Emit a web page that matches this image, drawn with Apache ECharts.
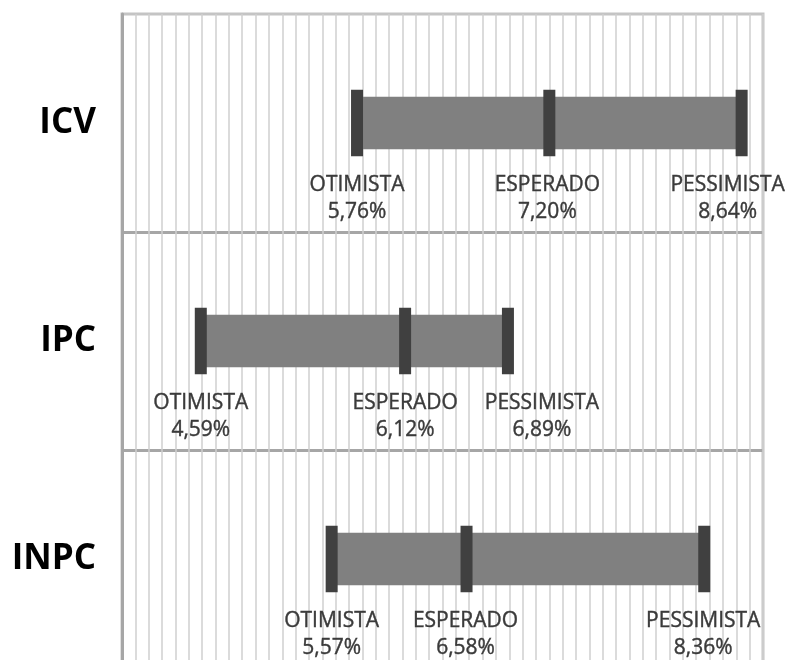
<!DOCTYPE html>
<html>
<head>
<meta charset="utf-8">
<script src="https://cdn.jsdelivr.net/npm/echarts@6/dist/echarts.min.js"></script>
<style>
html,body{margin:0;padding:0;background:#fff;}
#chart{width:788px;height:660px;}
</style>
</head>
<body>
<div id="chart"></div>
<script>
// Data
var categories = ['ICV', 'IPC', 'INPC'];
var otimista   = [5.76, 4.59, 5.57];
var esperado   = [7.20, 6.12, 6.58];
var pessimista = [8.64, 6.89, 8.36];
var scenarioNames = ['OTIMISTA', 'ESPERADO', 'PESSIMISTA'];

// Label layout nudges (pixels), as placed in the original
var labelShift = [[0, -2, -14], [0, 0, 34], [0, -1, -1]];

var seriesData = categories.map(function (c, i) {
  return [i, otimista[i], esperado[i], pessimista[i]];
});

function fmt(v) { return v.toFixed(2).replace('.', ',') + '%'; }

var FONT = '"Open Sans", "Noto Sans", sans-serif';

var chart = echarts.init(document.getElementById('chart'), null, {renderer: 'canvas'});
chart.setOption({
  animation: false,
  grid: {
    left: 122, right: 25, top: 14, height: 654,
    outerBoundsMode: 'none', containLabel: false,
    show: true, borderColor: '#c4c4c4', borderWidth: 3, backgroundColor: 'transparent'
  },
  xAxis: {
    type: 'value', min: 4.0, max: 8.8, interval: 0.1,
    axisLabel: {show: false}, axisTick: {show: false}, axisLine: {show: false},
    splitLine: {show: true, lineStyle: {color: '#cfcfcf', width: 1.5}}
  },
  yAxis: {
    type: 'category', data: categories, inverse: true,
    axisTick: {show: false},
    axisLine: {show: true, lineStyle: {color: '#a6a6a6', width: 3}},
    axisLabel: {fontFamily: FONT, fontWeight: 'bold', fontSize: 35, color: '#000', margin: 26},
    splitLine: {show: true, interval: function (i) { return i !== 0; }, lineStyle: {color: '#a6a6a6', width: 3}}
  },
  series: [{
    type: 'custom',
    data: seriesData,
    encode: {x: [1, 2, 3], y: 0},
    renderItem: function (params, api) {
      var idx = api.value(0);
      var vals = [api.value(1), api.value(2), api.value(3)];
      var pts = vals.map(function (v) { return api.coord([v, idx]); });
      var band = api.size([0, 1])[1];
      var cy = pts[0][1];
      var barH = band * 0.241;
      var mkH = band * 0.306;
      var mkW = 12;
      var children = [];
      children.push({
        type: 'rect',
        shape: {x: pts[0][0], y: cy - barH / 2, width: pts[2][0] - pts[0][0], height: barH},
        style: {fill: '#808080'}
      });
      pts.forEach(function (p, k) {
        children.push({
          type: 'rect',
          shape: {x: p[0] - mkW / 2, y: cy - mkH / 2, width: mkW, height: mkH},
          style: {fill: '#404040'}
        });
        var lx = p[0] + labelShift[idx][k];
        children.push({
          type: 'text',
          style: {x: lx, y: cy + band * 0.284, text: scenarioNames[k], fill: '#3a3a3a',
            font: '21px ' + FONT, textAlign: 'center', textVerticalAlign: 'middle',
            stroke: '#3a3a3a', lineWidth: 0.4}
        });
        children.push({
          type: 'text',
          style: {x: lx, y: cy + band * 0.41, text: fmt(vals[k]), fill: '#3a3a3a',
            font: '21px ' + FONT, textAlign: 'center', textVerticalAlign: 'middle',
            stroke: '#3a3a3a', lineWidth: 0.4}
        });
      });
      return {type: 'group', children: children};
    }
  }]
});
</script>
</body>
</html>
